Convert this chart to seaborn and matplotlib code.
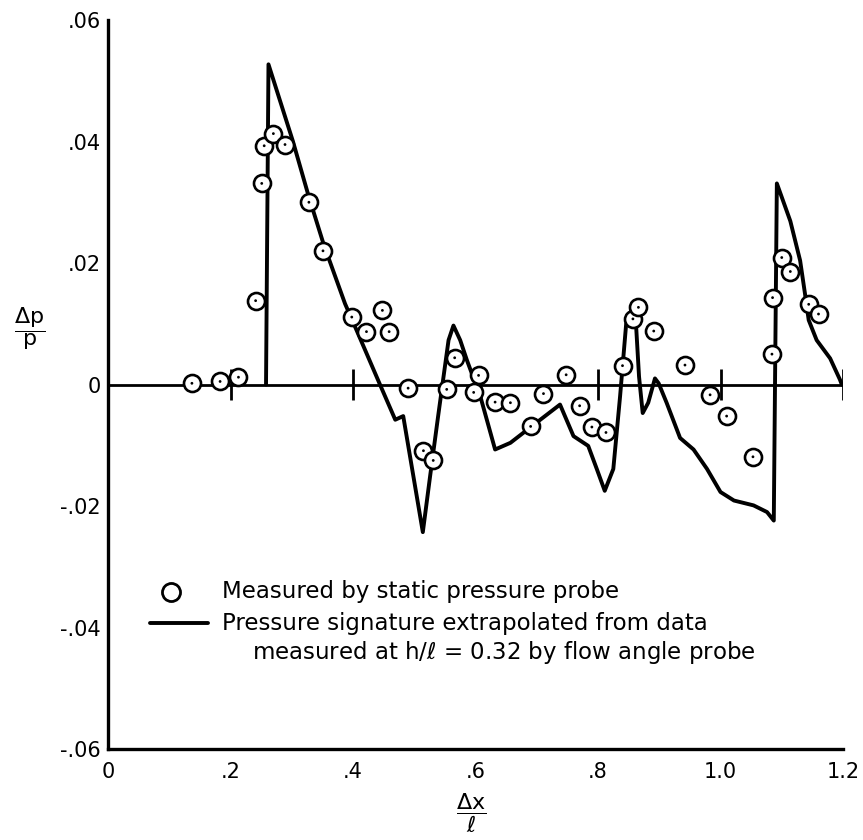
import matplotlib
matplotlib.use("Agg")
import matplotlib.pyplot as plt
import seaborn as sns
import pandas as pd

# ---- data ----
measured_x = [0.137, 0.183, 0.213, 0.241, 0.251, 0.255, 0.270, 0.289, 0.328, 0.351,
              0.398, 0.422, 0.448, 0.459, 0.490, 0.515, 0.531, 0.553, 0.566, 0.597,
              0.605, 0.632, 0.657, 0.690, 0.711, 0.748, 0.770, 0.790, 0.813, 0.840,
              0.857, 0.866, 0.891, 0.942, 0.983, 1.010, 1.053, 1.084, 1.085, 1.100,
              1.114, 1.144, 1.160]
measured_y = [0.0002, 0.0005, 0.0012, 0.0138, 0.0331, 0.0393, 0.0413, 0.0395, 0.0300, 0.0220,
              0.0111, 0.0087, 0.0122, 0.0087, -0.0006, -0.0109, -0.0125, -0.0008, 0.0044, -0.0013,
              0.0015, -0.0029, -0.0030, -0.0069, -0.0015, 0.0016, -0.0035, -0.0070, -0.0079, 0.0031,
              0.0108, 0.0127, 0.0088, 0.0032, -0.0017, -0.0052, -0.0119, 0.0050, 0.0143, 0.0209,
              0.0186, 0.0132, 0.0116]

signature_x = [0.258, 0.262, 0.302, 0.327, 0.352, 0.387, 0.406, 0.444, 0.469, 0.482,
               0.514, 0.526, 0.539, 0.550, 0.556, 0.564, 0.575, 0.586, 0.608, 0.632,
               0.657, 0.689, 0.738, 0.746, 0.760, 0.784, 0.798, 0.811, 0.825, 0.836,
               0.846, 0.856, 0.862, 0.867, 0.873, 0.882, 0.893, 0.899, 0.912, 0.934,
               0.956, 0.978, 1.000, 1.022, 1.054, 1.076, 1.087, 1.089, 1.092, 1.114,
               1.130, 1.138, 1.144, 1.157, 1.179, 1.195, 1.198]
signature_y = [0.0, 0.0527, 0.0400, 0.0312, 0.0231, 0.0133, 0.0089, 0.0, -0.0058, -0.0052,
               -0.0243, -0.0150, -0.0052, 0.0029, 0.0073, 0.0097, 0.0073, 0.0040, -0.0020, -0.0107,
               -0.0096, -0.0071, -0.0033, -0.0052, -0.0085, -0.0101, -0.0139, -0.0175, -0.0139, -0.0020,
               0.0100, 0.0127, 0.0100, 0.0013, -0.0047, -0.0030, 0.0010, 0.0002, -0.0030, -0.0088,
               -0.0107, -0.0139, -0.0177, -0.0191, -0.0199, -0.0210, -0.0224, 0.0, 0.0331, 0.0269,
               0.0204, 0.0149, 0.0106, 0.0073, 0.0043, 0.0008, 0.0]

x_ticks = [0, 0.2, 0.4, 0.6, 0.8, 1.0, 1.2]
x_tick_labels = ["0", ".2", ".4", ".6", ".8", "1.0", "1.2"]
y_ticks = [-0.06, -0.04, -0.02, 0, 0.02, 0.04, 0.06]
y_tick_labels = ["-.06", "-.04", "-.02", "0", ".02", ".04", ".06"]
zero_line_ticks = [0.2, 0.4, 0.6, 0.8, 1.0, 1.2]

legend_labels = ["Measured by static pressure probe",
                 "Pressure signature extrapolated from data",
                 r"measured at h/$\ell$ = 0.32 by flow angle probe"]

meas = pd.DataFrame({"x": measured_x, "y": measured_y})
sig = pd.DataFrame({"x": signature_x, "y": signature_y})

sns.set_style("white")
plt.rcParams["font.family"] = ["DejaVu Sans"]
plt.rcParams["mathtext.fontset"] = "dejavusans"
plt.rcParams["text.color"] = "black"
plt.rcParams["axes.labelcolor"] = "black"
plt.rcParams["xtick.color"] = "black"
plt.rcParams["ytick.color"] = "black"

fig = plt.figure(figsize=(8.63, 8.40), dpi=100)
ax = fig.add_axes([108 / 863, 1 - 749 / 840, 735 / 863, 729 / 840])

# zero reference line with its cross ticks
ax.axhline(0, color="black", lw=2.0, zorder=1)
ax.vlines(zero_line_ticks, -0.0025, 0.0025, color="black", lw=2.0, zorder=1)

# extrapolated signature
sns.lineplot(data=sig, x="x", y="y", sort=False, estimator=None, color="black",
             lw=2.8, ax=ax, zorder=2)

# measured points: open circles with centre dot
sns.scatterplot(data=meas, x="x", y="y", s=150, facecolor="white", edgecolor="black",
                linewidth=1.9, ax=ax, zorder=3)
sns.scatterplot(data=meas, x="x", y="y", s=4, color="black", edgecolor="none",
                ax=ax, zorder=4)

ax.set_xlim(0, 1.2)
ax.set_ylim(-0.06, 0.06)
ax.set_xticks(x_ticks)
ax.set_xticklabels(x_tick_labels)
ax.set_yticks(y_ticks)
ax.set_yticklabels(y_tick_labels)

for s in ["top", "right"]:
    ax.spines[s].set_visible(False)
for s in ["left", "bottom"]:
    ax.spines[s].set_linewidth(2.4)
    ax.spines[s].set_color("black")

ax.tick_params(axis="y", direction="in", length=14, width=2.2, pad=5, labelsize=15)
ax.tick_params(axis="x", direction="in", length=13, width=2.2, pad=9, labelsize=15)

ax.set_xlabel(r"$\dfrac{\Delta \mathrm{x}}{\ell}$", fontsize=16, va="center")
ax.set_ylabel(r"$\dfrac{\Delta \mathrm{p}}{\mathrm{p}}$", fontsize=16, rotation=0,
              ha="center", va="center")
ax.xaxis.set_label_coords(0.494, -0.088)
ax.yaxis.set_label_coords(-0.106, 0.577)

# legend, drawn to match the reference's layout
ax.plot([0.0857], [0.2154], marker="o", ms=13, mfc="white", mec="black", mew=2.0,
        transform=ax.transAxes, clip_on=False)
ax.plot([0.057, 0.136], [0.1728, 0.1728], color="black", lw=2.8,
        transform=ax.transAxes, clip_on=False)
ax.text(0.155, 0.2154, legend_labels[0], transform=ax.transAxes, fontsize=16.5, va="center")
ax.text(0.155, 0.1728, legend_labels[1], transform=ax.transAxes, fontsize=16.5, va="center")
ax.text(0.196, 0.1320, legend_labels[2], transform=ax.transAxes, fontsize=16.5, va="center")

fig.savefig("out.png", dpi=100)
